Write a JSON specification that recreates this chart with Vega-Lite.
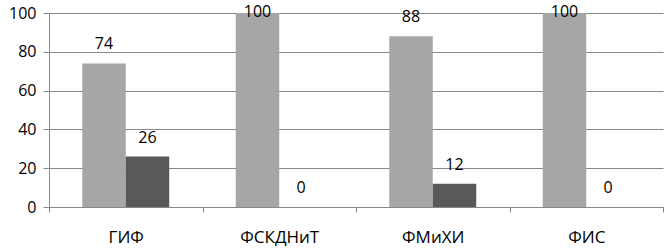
{
  "$schema": "https://vega.github.io/schema/vega-lite/v6.json",
  "width": 614,
  "height": 194,
  "autosize": {"type": "none"},
  "padding": {"left": 49, "top": 13, "right": 1, "bottom": 43},
  "background": "white",
  "config": {
    "view": {"stroke": null},
    "font": "Open Sans"
  },
  "data": {
    "values": [
      {"cat": "ГИФ", "series": "s1", "value": 74},
      {"cat": "ГИФ", "series": "s2", "value": 26},
      {"cat": "ФСКДНиТ", "series": "s1", "value": 100},
      {"cat": "ФСКДНиТ", "series": "s2", "value": 0},
      {"cat": "ФМиХИ", "series": "s1", "value": 88},
      {"cat": "ФМиХИ", "series": "s2", "value": 12},
      {"cat": "ФИС", "series": "s1", "value": 100},
      {"cat": "ФИС", "series": "s2", "value": 0}
    ]
  },
  "encoding": {
    "x": {
      "field": "cat",
      "type": "nominal",
      "sort": null,
      "scale": {"paddingInner": 0, "paddingOuter": 0},
      "axis": {
        "title": null,
        "labelAngle": 0,
        "labelFont": "Open Sans",
        "labelFontSize": 17,
        "labelColor": "#000000",
        "labelPadding": 17,
        "tickBand": "extent",
        "tickSize": 5,
        "tickColor": "#888888",
        "domainColor": "#888888",
        "grid": false
      }
    },
    "xOffset": {
      "field": "series",
      "type": "nominal",
      "sort": null,
      "scale": {"paddingInner": 0, "paddingOuter": 0.765}
    },
    "y": {
      "field": "value",
      "type": "quantitative",
      "scale": {"domain": [0, 100], "nice": false},
      "axis": {
        "title": null,
        "values": [0, 20, 40, 60, 80, 100],
        "labelOverlap": false,
        "labelFlush": false,
        "labelBound": false,
        "grid": true,
        "gridColor": "#888888",
        "domainColor": "#888888",
        "tickColor": "#888888",
        "tickSize": 6,
        "labelPadding": 7,
        "labelFont": "Open Sans",
        "labelFontSize": 16,
        "labelColor": "#000000"
      }
    }
  },
  "layer": [
    {
      "mark": {"type": "bar"},
      "encoding": {
        "color": {
          "field": "series",
          "type": "nominal",
          "sort": null,
          "scale": {"range": ["#a6a6a6", "#595959"]},
          "legend": null
        }
      }
    },
    {
      "transform": [{"filter": "datum.value < 100"}],
      "mark": {"type": "text", "baseline": "alphabetic", "dy": -14, "font": "Open Sans", "fontSize": 16, "color": "#000000"},
      "encoding": {
        "text": {"field": "value", "type": "quantitative"}
      }
    },
    {
      "transform": [{"filter": "datum.value >= 100"}],
      "mark": {"type": "text", "baseline": "alphabetic", "dy": 4, "font": "Open Sans", "fontSize": 16, "color": "#000000"},
      "encoding": {
        "text": {"field": "value", "type": "quantitative"}
      }
    }
  ]
}
